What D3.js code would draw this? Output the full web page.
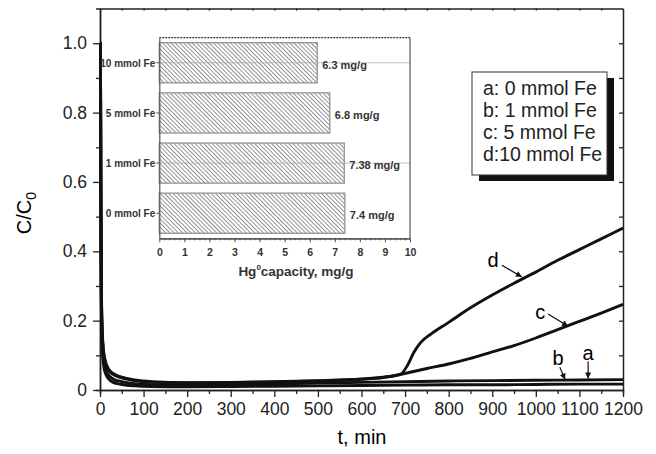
<!DOCTYPE html>
<html>
<head>
<meta charset="utf-8">
<script src="https://cdn.jsdelivr.net/npm/d3@7"></script>
<style>
  body { margin: 0; background: #fff; }
  text { font-family: Arial, "Liberation Sans", sans-serif; }
</style>
</head>
<body>
<div id="chart"></div>
<script>
var width = 656,
    height = 454;

// breakthrough curves, [t (min), C/C0]
var curveA = [[0,1.0],[1,1.0],[2,0.55],[3,0.28],[5,0.15],[8,0.09],[12,0.062],[20,0.042],[30,0.032],[50,0.024],[80,0.018],[120,0.015],[200,0.014],[300,0.015],[400,0.017],[500,0.02],[600,0.022],[700,0.024],[800,0.026],[900,0.027],[1000,0.028],[1100,0.029],[1200,0.03]];
var curveB = [[0,1.0],[1,1.0],[2,0.5],[3,0.25],[5,0.13],[8,0.075],[12,0.05],[20,0.032],[30,0.022],[50,0.016],[80,0.012],[120,0.01],[200,0.009],[300,0.01],[400,0.011],[500,0.012],[600,0.013],[700,0.014],[800,0.015],[900,0.015],[1000,0.016],[1100,0.017],[1200,0.017]];
var curveC = [[0,1.0],[1,1.0],[2,0.6],[3,0.3],[5,0.17],[8,0.11],[12,0.08],[20,0.056],[30,0.045],[50,0.035],[80,0.027],[120,0.022],[200,0.02],[300,0.021],[400,0.023],[500,0.026],[600,0.031],[650,0.036],[690,0.045],[750,0.062],[800,0.075],[850,0.091],[900,0.11],[950,0.128],[1000,0.15],[1050,0.174],[1100,0.198],[1150,0.222],[1200,0.247]];
var curveD = [[0,1.0],[1,1.0],[2,0.62],[3,0.32],[5,0.18],[8,0.115],[12,0.085],[20,0.06],[30,0.048],[50,0.037],[80,0.029],[120,0.024],[200,0.021],[300,0.022],[400,0.024],[500,0.027],[600,0.032],[650,0.037],[690,0.046],[705,0.07],[720,0.108],[735,0.136],[760,0.162],[800,0.195],[850,0.237],[900,0.274],[950,0.308],[1000,0.34],[1050,0.374],[1100,0.405],[1150,0.436],[1200,0.467]];
var curves = [curveA, curveB, curveC, curveD];

var xTicks = [0, 100, 200, 300, 400, 500, 600, 700, 800, 900, 1000, 1100, 1200];
var yTicks = [0, 0.2, 0.4, 0.6, 0.8, 1.0];

// curve labels: text position and arrow tip, in data units
var curveNotes = [
  {label: "d", tx: 902, ty: 0.375, x0: 922, y0: 0.36, x1: 968, y1: 0.326},
  {label: "c", tx: 1010, ty: 0.225, x0: 1028, y0: 0.219, x1: 1074, y1: 0.184},
  {label: "b", tx: 1051, ty: 0.092, x0: 1055, y0: 0.066, x1: 1067, y1: 0.03},
  {label: "a", tx: 1120, ty: 0.107, x0: 1120, y0: 0.082, x1: 1120, y1: 0.033}
];

var legendLabels = ["a: 0 mmol Fe", "b: 1 mmol Fe", "c: 5 mmol Fe", "d:10 mmol Fe"];

// inset bar chart
var categories = ["0 mmol Fe", "1 mmol Fe", "5 mmol Fe", "10 mmol Fe"];
var capacity = [7.4, 7.38, 6.8, 6.3];
var capacityLabels = ["7.4 mg/g", "7.38 mg/g", "6.8 mg/g", "6.3 mg/g"];
var gridCategories = ["10 mmol Fe", "1 mmol Fe"];
var insetTicks = [0, 1, 2, 3, 4, 5, 6, 7, 8, 9, 10];

var svg = d3.select("#chart").append("svg")
  .attr("width", width)
  .attr("height", height);

var x = d3.scaleLinear().domain([0, 1200]).range([100, 623]);
var y = d3.scaleLinear().domain([0, 1.1]).range([390, 8.6]);

var axisColor = "#222";

function styleAxis(g) {
  g.selectAll("path").attr("stroke", axisColor).attr("stroke-width", 1.5);
  g.selectAll("line").attr("stroke", axisColor).attr("stroke-width", 1.3);
  g.selectAll("text").attr("fill", "#222").style("font-size", "17.5px");
}

// minor ticks first
svg.append("g")
  .attr("transform", "translate(0,390)")
  .call(d3.axisBottom(x).tickValues(d3.range(50, 1200, 100)).tickSize(4).tickFormat(""))
  .call(styleAxis);
svg.append("g")
  .attr("transform", "translate(100,0)")
  .call(d3.axisLeft(y).tickValues([0.1, 0.3, 0.5, 0.7, 0.9]).tickSize(4).tickFormat(""))
  .call(styleAxis);

svg.append("g")
  .attr("transform", "translate(0,390)")
  .call(d3.axisBottom(x).tickValues(xTicks).tickSize(7).tickSizeOuter(0).tickPadding(6)
    .tickFormat(d3.format("d")))
  .call(styleAxis);

svg.append("g")
  .attr("transform", "translate(100,0)")
  .call(d3.axisLeft(y).tickValues(yTicks).tickSize(7).tickSizeOuter(0).tickPadding(6)
    .tickFormat(function(d) { return d === 0 ? "0" : d3.format(".1f")(d); }))
  .call(styleAxis);

// frame: top and right
svg.append("g")
  .attr("transform", "translate(0," + y(1.1) + ")")
  .call(d3.axisBottom(x).tickValues(d3.range(50, 1200, 50)).tickSize(2).tickSizeOuter(0).tickFormat(""))
  .call(styleAxis);
svg.append("g")
  .attr("transform", "translate(623,0)")
  .call(d3.axisLeft(y).tickValues(d3.range(0.1, 1.05, 0.1)).tickSize(4).tickSizeOuter(0).tickFormat(""))
  .call(styleAxis);

// axis titles
svg.append("text")
  .attr("x", 362)
  .attr("y", 444)
  .attr("text-anchor", "middle")
  .style("font-size", "20px")
  .text("t, min");

var yt = svg.append("text")
  .attr("transform", "translate(31,213) rotate(-90)")
  .attr("text-anchor", "middle")
  .style("font-size", "20px");
yt.append("tspan").text("C/C");
yt.append("tspan").attr("dy", 5).style("font-size", "14px").text("0");

// curves
svg.append("clipPath").attr("id", "plotclip")
  .append("rect").attr("x", 99).attr("y", y(1.1)).attr("width", 524).attr("height", 390 - y(1.1));

var line = d3.line()
  .curve(d3.curveMonotoneX)
  .x(function(d) { return x(d[0]); })
  .y(function(d) { return y(d[1]); });

svg.append("g").attr("clip-path", "url(#plotclip)")
  .selectAll("path")
  .data(curves)
  .enter()
  .append("path")
  .attr("d", line)
  .attr("fill", "none")
  .attr("stroke", "#111")
  .attr("stroke-width", 2.9)
  .attr("stroke-linejoin", "round");

// arrows
svg.append("defs").append("marker")
  .attr("id", "arrowhead")
  .attr("viewBox", "0 0 10 10")
  .attr("refX", 10).attr("refY", 5)
  .attr("markerWidth", 7).attr("markerHeight", 6)
  .attr("markerUnits", "userSpaceOnUse")
  .attr("orient", "auto")
  .append("path").attr("d", "M0,0L10,5L0,10Z").attr("fill", "#111");

var notes = svg.append("g");
notes.selectAll("line")
  .data(curveNotes)
  .enter()
  .append("line")
  .attr("x1", function(d) { return x(d.x0); })
  .attr("y1", function(d) { return y(d.y0); })
  .attr("x2", function(d) { return x(d.x1); })
  .attr("y2", function(d) { return y(d.y1); })
  .attr("stroke", "#111")
  .attr("stroke-width", 1.2)
  .attr("marker-end", "url(#arrowhead)");
notes.selectAll("text")
  .data(curveNotes)
  .enter()
  .append("text")
  .attr("x", function(d) { return x(d.tx); })
  .attr("y", function(d) { return y(d.ty); })
  .attr("dy", "0.35em")
  .attr("text-anchor", "middle")
  .style("font-size", "20px")
  .text(function(d) { return d.label; });

// legend with shadow
var legend = svg.append("g").attr("transform", "translate(472,72)");
legend.append("rect")
  .attr("x", 7).attr("y", 6).attr("width", 135).attr("height", 103)
  .attr("fill", "#111");
legend.append("rect")
  .attr("width", 135).attr("height", 103)
  .attr("fill", "#fff").attr("stroke", "#333").attr("stroke-width", 1);
legend.selectAll("text.leg")
  .data(legendLabels)
  .enter()
  .append("text")
  .attr("class", "leg")
  .attr("x", 11)
  .attr("y", function(d, i) { return 16 + i * 22; })
  .attr("dy", "0.35em")
  .style("font-size", "19.5px")
  .attr("fill", "#222")
  .text(function(d) { return d; });

// ---- inset ----
var ix = d3.scaleLinear().domain([0, 10]).range([159.3, 410]);
var iy = d3.scaleBand().domain(categories).range([238.3, 37.7]).paddingInner(0.2).paddingOuter(0.1);

var pat = svg.select("defs").append("pattern")
  .attr("id", "hatch")
  .attr("patternUnits", "userSpaceOnUse")
  .attr("width", 3).attr("height", 3)
  .attr("patternTransform", "rotate(-45)");
pat.append("rect").attr("width", 3).attr("height", 3).attr("fill", "#fff");
pat.append("line")
  .attr("x1", 0.5).attr("y1", 0).attr("x2", 0.5).attr("y2", 3)
  .attr("stroke", "#777").attr("stroke-width", 0.8);

var inset = svg.append("g");

inset.selectAll("line.grid")
  .data(gridCategories)
  .enter()
  .append("line")
  .attr("class", "grid")
  .attr("x1", ix(0)).attr("x2", ix(10))
  .attr("y1", function(d) { return iy(d) + iy.bandwidth() / 2; })
  .attr("y2", function(d) { return iy(d) + iy.bandwidth() / 2; })
  .attr("stroke", "#c4c4c4").attr("stroke-width", 1);

inset.selectAll("rect.bar")
  .data(categories)
  .enter()
  .append("rect")
  .attr("class", "bar")
  .attr("x", ix(0))
  .attr("y", function(d) { return iy(d); })
  .attr("width", function(d, i) { return ix(capacity[i]) - ix(0); })
  .attr("height", iy.bandwidth())
  .attr("fill", "url(#hatch)")
  .attr("stroke", "#9a9a9a")
  .attr("stroke-width", 1.4);

inset.selectAll("line.grid2")
  .data(gridCategories)
  .enter()
  .append("line")
  .attr("x1", ix(0)).attr("x2", function(d) { return ix(capacity[categories.indexOf(d)]); })
  .attr("y1", function(d) { return iy(d) + iy.bandwidth() / 2; })
  .attr("y2", function(d) { return iy(d) + iy.bandwidth() / 2; })
  .attr("stroke", "#aaa").attr("stroke-width", 0.8);

inset.selectAll("text.val")
  .data(categories)
  .enter()
  .append("text")
  .attr("class", "val")
  .attr("x", function(d, i) { return ix(capacity[i]) + 5; })
  .attr("y", function(d) { return iy(d) + iy.bandwidth() / 2 + 2; })
  .attr("dy", "0.35em")
  .style("font-size", "11px")
  .style("font-weight", "bold")
  .attr("fill", "#333")
  .text(function(d, i) { return capacityLabels[i]; });

// inset axes
function styleInset(g) {
  g.selectAll("path").attr("stroke", "#555").attr("stroke-width", 1.2);
  g.selectAll("line").attr("stroke", "#555").attr("stroke-width", 1);
  g.selectAll("text").attr("fill", "#333").style("font-size", "10.5px").style("font-weight", "bold");
}

inset.append("g")
  .attr("transform", "translate(0,238.3)")
  .call(d3.axisBottom(ix).tickValues(d3.range(0.2, 10, 0.2)).tickSize(2).tickSizeOuter(0).tickFormat(""))
  .call(styleInset);
inset.append("g")
  .attr("transform", "translate(0,238.3)")
  .call(d3.axisBottom(ix).tickValues(insetTicks).tickSize(4).tickSizeOuter(0).tickPadding(6))
  .call(styleInset);
inset.append("g")
  .attr("transform", "translate(159.3,0)")
  .call(d3.axisLeft(iy).tickSize(3).tickSizeOuter(0).tickPadding(1))
  .call(styleInset)
  .call(function(g) { g.selectAll("text").style("font-size", "10px").attr("dy", "0.4em"); });

// inset frame: dashed top, plain right
inset.append("line")
  .attr("x1", ix(0)).attr("x2", ix(10))
  .attr("y1", 37.7).attr("y2", 37.7)
  .attr("stroke", "#333").attr("stroke-width", 1.2)
  .attr("stroke-dasharray", "2,1");
inset.append("line")
  .attr("x1", ix(10)).attr("x2", ix(10))
  .attr("y1", 37.7).attr("y2", 238.3)
  .attr("stroke", "#555").attr("stroke-width", 1.2);

var ixt = inset.append("text")
  .attr("x", 296)
  .attr("y", 276)
  .attr("text-anchor", "middle")
  .style("font-size", "13.5px")
  .style("font-weight", "bold")
  .attr("fill", "#333");
ixt.append("tspan").text("Hg");
ixt.append("tspan").attr("dy", -6).style("font-size", "8px").text("0");
ixt.append("tspan").attr("dy", 6).text("capacity, mg/g");
</script>
</body>
</html>
